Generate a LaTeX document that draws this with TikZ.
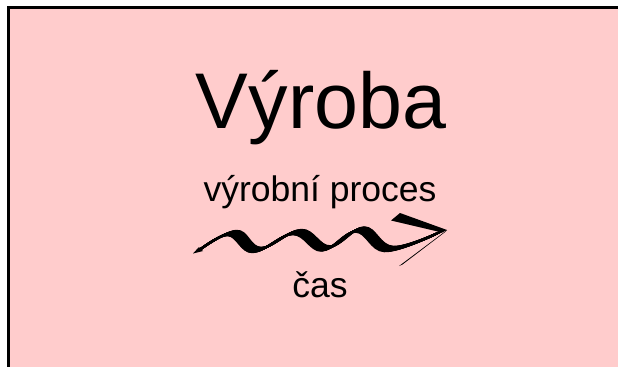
\documentclass[tikz,border=0pt]{standalone}
\usepackage{fontspec}
\setmainfont{Liberation Sans}
\definecolor{slidepink}{RGB}{255,204,204}
\tikzset{
  framefill/.style={fill=slidepink},
  frameline/.style={draw=black, line width=3bp},
  title/.style={anchor=base, inner sep=0pt, font=\fontsize{79bp}{90bp}\selectfont},
  label/.style={anchor=base, inner sep=0pt, font=\fontsize{35.5bp}{40bp}\selectfont},
  nibline/.style={line width=2bp, line cap=round, line join=round},
}
\begin{document}
\begin{tikzpicture}[x=1bp,y=-1bp]
\useasboundingbox (0,0) rectangle (618,366);
\fill[white] (0,0) rectangle (618,366);
\fill[framefill] (8.5,7.5) rectangle (625,375);
\draw[frameline] (8.5,375) -- (8.5,7.5) -- (625,7.5);

\node[title] (t) at (321,128) {Výroba};
\node[label] (p) at (320,201) {výrobní proces};
\node[label] (c) at (320,297) {čas};

\coordinate (ws) at (198,251);
\coordinate (tip) at (447,230);

% calligraphic wave: broad nib swept along the centre line
\foreach \t in {0,0.0625,...,1.01}{
  \draw[nibline, shift={({\t*9-4.5},{-\t*4.5+2.25})}]
    plot[smooth, tension=0.65] coordinates {
      (ws) (232,233) (257,250) (297,232) (326,248.5) (360,229.5)
      (389,249) (438,233)};
}
% tapered tail at the start
\fill (193,253.5) -- (199,247) -- (203,251) -- cycle;
% arrow head barbs
\fill (391,220.5) -- (400,213) -- (tip) -- (442,232.5) -- cycle;
\fill (tip) -- (399,266) -- (402.5,264.5) -- (444.5,232.5) -- cycle;
\end{tikzpicture}
\end{document}
